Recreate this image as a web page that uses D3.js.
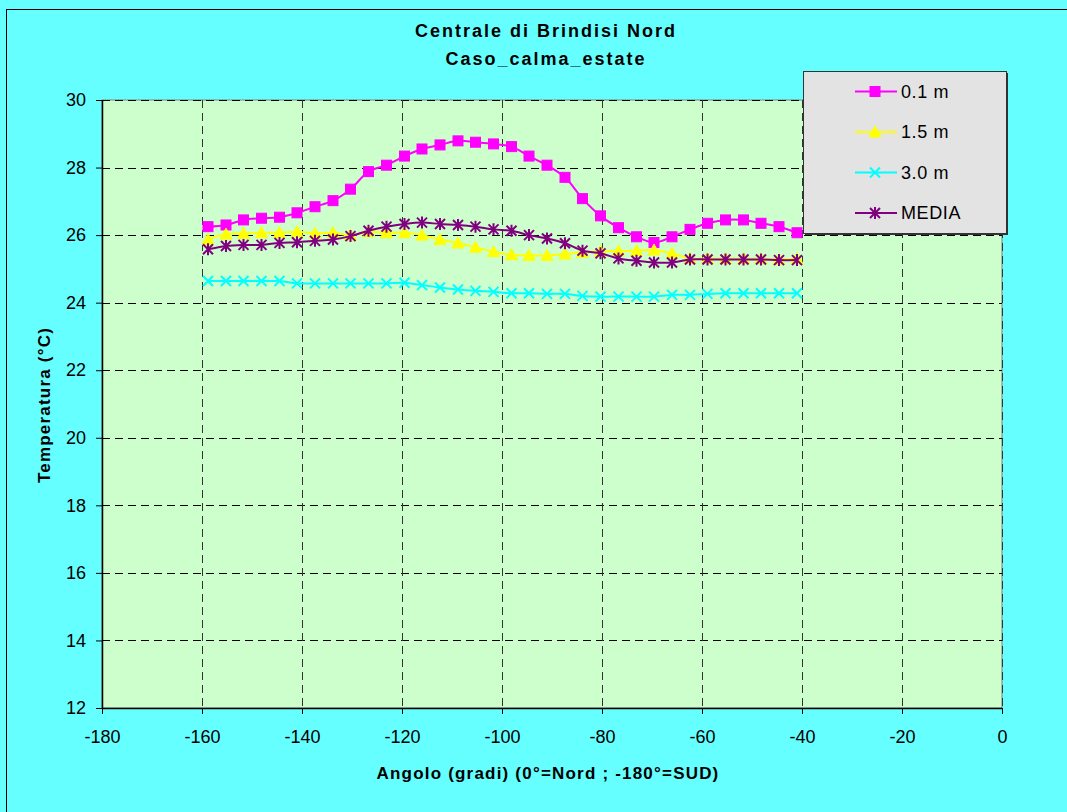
<!DOCTYPE html>
<html><head><meta charset="utf-8">
<script src="https://cdn.jsdelivr.net/npm/d3@7"></script>
<style>
html,body{margin:0;padding:0;background:#66FFFF;overflow:hidden;}
text{font-family:"Liberation Sans",Arial,sans-serif;}
</style></head>
<body>
<svg id="chart" width="1067" height="812"></svg>
<script>
const titleLines = ["Centrale di Brindisi Nord", "Caso_calma_estate"];
const xTitle = "Angolo (gradi) (0°=Nord ; -180°=SUD)";
const yTitle = "Temperatura (°C)";
const xTicks = [-180,-160,-140,-120,-100,-80,-60,-40,-20,0];
const yTicks = [12,14,16,18,20,22,24,26,28,30];
const angles = [-158.8,-155.2,-151.7,-148.1,-144.5,-141.0,-137.4,-133.8,-130.3,-126.7,-123.1,-119.5,-116.0,-112.4,-108.8,-105.3,-101.7,-98.1,-94.6,-91.0,-87.4,-83.9,-80.3,-76.7,-73.1,-69.6,-66.0,-62.4,-58.9,-55.3,-51.7,-48.2,-44.6,-41.0];
const seriesNames = ["0.1 m","1.5 m","3.0 m","MEDIA"];
const t01 = [26.25,26.30,26.45,26.50,26.53,26.66,26.84,27.02,27.36,27.88,28.07,28.34,28.55,28.67,28.79,28.75,28.70,28.62,28.34,28.07,27.71,27.08,26.57,26.22,25.95,25.78,25.95,26.17,26.35,26.45,26.45,26.35,26.25,26.07];
const t15 = [25.87,26.03,26.05,26.07,26.07,26.10,26.05,26.07,26.00,26.10,26.07,26.07,26.00,25.87,25.77,25.64,25.51,25.42,25.40,25.40,25.44,25.49,25.52,25.53,25.54,25.56,25.46,25.31,25.31,25.30,25.30,25.30,25.28,25.30];
const t30 = [24.64,24.64,24.64,24.64,24.64,24.57,24.57,24.57,24.57,24.57,24.57,24.59,24.52,24.45,24.39,24.35,24.32,24.28,24.28,24.26,24.26,24.20,24.18,24.18,24.18,24.18,24.23,24.23,24.26,24.28,24.28,24.28,24.28,24.28];
const tMedia = [25.58,25.68,25.71,25.71,25.77,25.79,25.83,25.87,25.97,26.13,26.25,26.33,26.37,26.33,26.30,26.25,26.17,26.13,26.00,25.90,25.76,25.54,25.46,25.31,25.24,25.19,25.19,25.28,25.28,25.28,25.28,25.28,25.26,25.26];
const colors = ["#FF00FF","#FFFF00","#00FFFF","#800080"];
const markers = ["square","triangle","x","star"];

const svg = d3.select("#chart");
svg.append("rect").attr("x",6.5).attr("y",9.5).attr("width",1200).attr("height",1000)
  .attr("fill","#66FFFF").attr("stroke","#000").attr("stroke-width",1);

const x = d3.scaleLinear().domain([-180,0]).range([102,1002]);
const y = d3.scaleLinear().domain([12,30]).range([708,100]);

svg.append("rect").attr("x",102).attr("y",100).attr("width",900).attr("height",608)
  .attr("fill","#CCFFCC").attr("stroke","#808080").attr("stroke-width",1);

const grid = svg.append("g");
grid.selectAll("line.h").data(yTicks.filter(d=>d>12)).join("line")
  .attr("x1",102).attr("x2",1002).attr("y1",d=>Math.round(y(d))+0.5).attr("y2",d=>Math.round(y(d))+0.5)
  .attr("stroke","#000").attr("stroke-dasharray","8,5").attr("stroke-width",1);
grid.selectAll("line.v").data(xTicks.filter(d=>d>-180)).join("line")
  .attr("y1",100).attr("y2",708).attr("x1",d=>Math.round(x(d))+0.5).attr("x2",d=>Math.round(x(d))+0.5)
  .attr("stroke","#333").attr("stroke-dasharray","8,5").attr("stroke-width",1);

const fmt = d => String(d);
const xAxis = d3.axisBottom(x).tickValues(xTicks).tickSize(6).tickPadding(16).tickFormat(fmt);
const yAxis = d3.axisLeft(y).tickValues(yTicks).tickSize(6).tickPadding(10).tickFormat(fmt);
const gx = svg.append("g").attr("transform","translate(0,708)").call(xAxis);
const gy = svg.append("g").attr("transform","translate(102,0)").call(yAxis);
[gx,gy].forEach(g=>{
  g.select(".domain").attr("stroke","#000").attr("stroke-width",1.5);
  g.selectAll(".tick line").attr("stroke","#000");
  g.selectAll(".tick text").attr("fill","#000").style("font-size","18px").style("font-family","'Liberation Sans',Arial,sans-serif");
});
gx.select(".domain").attr("d","M102,0.5H1002");
gy.select(".domain").attr("d","M0.5,100V708.5");

svg.append("text").attr("x",546).attr("y",37).attr("text-anchor","middle")
  .style("font-size","18px").style("font-weight","bold").style("letter-spacing","2px").text(titleLines[0]);
svg.append("text").attr("x",546).attr("y",65).attr("text-anchor","middle")
  .style("font-size","18px").style("font-weight","bold").style("letter-spacing","2px").text(titleLines[1]);
svg.append("text").attr("x",548).attr("y",779).attr("text-anchor","middle")
  .style("font-size","17px").style("font-weight","bold").style("letter-spacing","1.2px").text(xTitle);
svg.append("text").attr("transform","translate(50,405) rotate(-90)").attr("text-anchor","middle")
  .style("font-size","17px").style("font-weight","bold").style("letter-spacing","1.2px").text(yTitle);

function drawMarker(g, type, color, cx, cy){
  const s = 5;
  if(type==="square"){
    g.append("rect").attr("x",cx-s).attr("y",cy-s).attr("width",2*s).attr("height",2*s)
      .attr("fill",color).attr("stroke",color);
  } else if(type==="triangle"){
    g.append("path").attr("d",`M${cx},${cy-s-1}L${cx+s+1},${cy+s}L${cx-s-1},${cy+s}Z`)
      .attr("fill",color).attr("stroke",color);
  } else if(type==="x"){
    g.append("path").attr("d",`M${cx-s},${cy-s}L${cx+s},${cy+s}M${cx-s},${cy+s}L${cx+s},${cy-s}`)
      .attr("stroke",color).attr("stroke-width",2).attr("fill","none");
  } else {
    g.append("path").attr("d",`M${cx-s},${cy-s}L${cx+s},${cy+s}M${cx-s},${cy+s}L${cx+s},${cy-s}M${cx},${cy-s-1}L${cx},${cy+s+1}`)
      .attr("stroke",color).attr("stroke-width",2).attr("fill","none");
  }
}

const seriesData = [t01,t15,t30,tMedia];
const line = d3.line().x(d=>x(d[0])).y(d=>y(d[1])).curve(d3.curveCatmullRom.alpha(0.5));
seriesData.forEach((vals,i)=>{
  const pts = angles.map((a,j)=>[a,vals[j]]);
  const g = svg.append("g");
  g.append("path").datum(pts).attr("d",line).attr("fill","none").attr("stroke",colors[i]).attr("stroke-width",2);
  pts.forEach(p=>drawMarker(g, markers[i], colors[i], x(p[0]), y(p[1])));
});

const lg = svg.append("g");
lg.append("rect").attr("x",805).attr("y",73).attr("width",203).attr("height",162).attr("fill","#333");
lg.append("rect").attr("x",803.5).attr("y",71.5).attr("width",203).attr("height",162)
  .attr("fill","#E3E3E3").attr("stroke","#333").attr("stroke-width",1);
seriesNames.forEach((n,i)=>{
  const ly = 91.5 + i*40.5;
  lg.append("line").attr("x1",855).attr("x2",897).attr("y1",ly).attr("y2",ly).attr("stroke",colors[i]).attr("stroke-width",2);
  drawMarker(lg, markers[i], colors[i], 875, ly);
  lg.append("text").attr("x",901).attr("y",ly+6).style("font-size","18px").style("letter-spacing","0.6px").text(n);
});
</script>
</body></html>
